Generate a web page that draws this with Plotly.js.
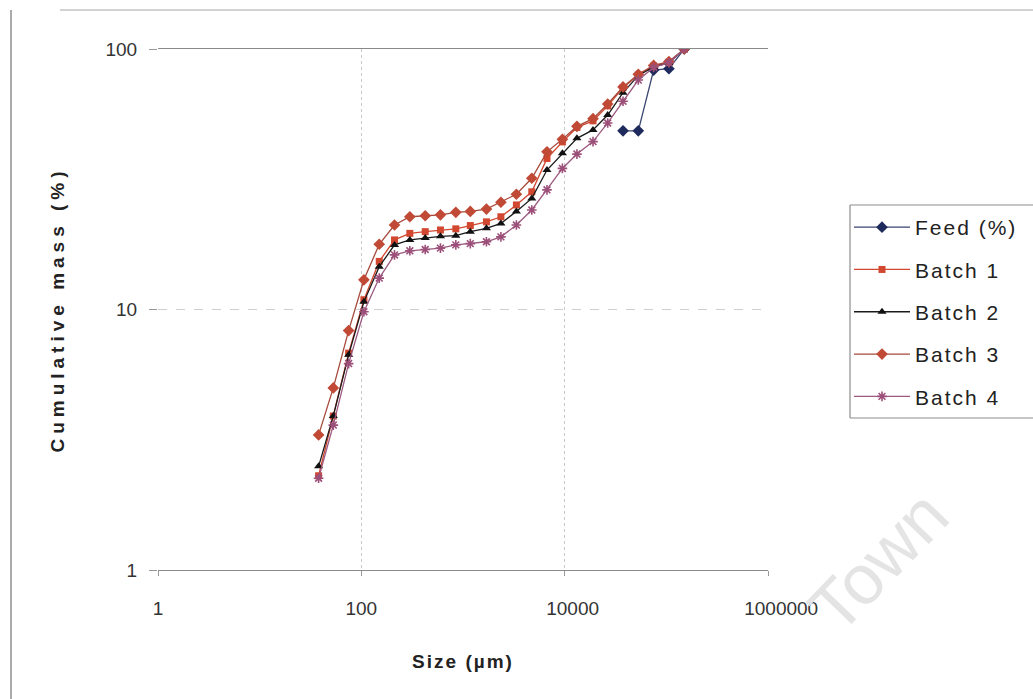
<!DOCTYPE html>
<html>
<head>
<meta charset="utf-8">
<script src="https://cdn.plot.ly/plotly-3.0.1.min.js"></script>
<style>
  html, body { margin: 0; padding: 0; background: #fff; }
  #chart { width: 1033px; height: 699px; }
  .legendtext { letter-spacing: 2px; }
  .ytitle { letter-spacing: 5px; }
  .xtitle { letter-spacing: 2px; }
</style>
</head>
<body>
<div id="chart"></div>
<script>
// Sieve sizes (µm) for the batch curves
const sizes = [38, 53, 75, 106, 150, 212, 300, 425, 600, 850, 1180, 1700, 2360,
               3350, 4750, 6700, 9500, 13200, 19000, 26500, 37500, 53000, 75000,
               106000, 150000];

// Feed is only reported on the coarse sieves
const feedSizes = [37500, 53000, 75000, 106000, 150000];
const feedPct   = [48.5, 48.5, 83, 84, 100];

// Cumulative mass passing (%) per batch
const batch1 = [2.3, 3.9, 6.8, 10.9, 15.3, 18.5, 19.6, 19.9, 20.2, 20.4, 21.0, 21.7, 22.7,
                25.2, 28.3, 38.0, 44.0, 50.0, 53.0, 60.5, 71.0, 79.5, 86.0, 89.0, 100];
const batch2 = [2.5, 3.9, 6.7, 10.7, 14.6, 17.7, 18.5, 18.8, 19.1, 19.2, 19.9, 20.5, 21.4,
                23.8, 26.7, 34.3, 39.8, 45.4, 48.9, 55.8, 68.0, 79.0, 85.5, 88.5, 100];
const batch3 = [3.3, 5.0, 8.3, 13.0, 17.8, 21.1, 22.7, 22.9, 23.1, 23.6, 23.8, 24.3, 25.8,
                27.7, 31.9, 40.3, 45.0, 50.5, 54.0, 61.5, 71.5, 80.0, 86.5, 89.5, 100];
const batch4 = [2.25, 3.6, 6.2, 9.8, 13.2, 16.2, 16.8, 17.0, 17.2, 17.7, 17.9, 18.2, 19.0,
                21.1, 24.1, 28.8, 34.8, 39.5, 44.1, 52.0, 63.0, 76.0, 85.0, 88.5, 100];

const xTickVals = [1, 100, 10000, 1000000];
const xTickText = ['1', '100', '\u00a0\u00a0\u00a010000', '\u00a0\u00a0\u00a0\u00a0\u00a01000000'];
const yTickVals = [1, 10, 100];
const yTickText = ['1', '10', '100'];

function series(name, x, y, color, lineColor, symbol, size, group) {
  const open = symbol.indexOf('open') >= 0;
  return {
    type: 'scatter', mode: 'lines+markers', name: name, x: x, y: y,
    legendgroup: group,
    line: { color: lineColor, width: 1.3 },
    marker: {
      symbol: symbol, size: size, color: color,
      line: { color: color, width: open ? 1.6 : 0 }
    },
    hoverinfo: 'x+y+name'
  };
}

const traces = [
  series('Feed (%)', feedSizes, feedPct, '#1f2a5c', '#3a4570', 'diamond', 9, 'g0'),
  series('Batch 1', sizes, batch1, '#d2472f', '#d2472f', 'square', 7, 'g1'),
  series('Batch 2', sizes, batch2, '#111111', '#1a1a1a', 'triangle-up', 8, 'g2'),
  series('Batch 3', sizes, batch3, '#c04a35', '#a64a3c', 'diamond', 9, 'g3'),
  series('Batch 4', sizes, batch4, '#9c4f78', '#9c5a80', 'asterisk-open', 8, 'g4')
];

// plot area spans 158..768 px horizontally and 49..570 px vertically
const L = 158, R = 768, T = 49, B = 570;
const px = v => (v - L) / (R - L);
const py = v => (B - v) / (B - T);

const frame = { color: '#8c8c8c', width: 1.2 };

const layout = {
  width: 1033, height: 699,
  margin: { l: L, r: 1033 - R, t: T, b: 699 - B, autoexpand: false },
  paper_bgcolor: '#ffffff',
  plot_bgcolor: '#ffffff',
  font: { family: 'Liberation Sans, Arial, sans-serif', color: '#222' },
  showlegend: true,
  xaxis: {
    type: 'log', range: [0, 6],
    tickvals: xTickVals, ticktext: xTickText,
    tickfont: { size: 19, color: '#333' },
    ticks: 'outside', ticklen: 5, tickcolor: '#999',
    ticklabelstandoff: 16,
    showgrid: true, gridcolor: '#c9c9c9', griddash: 'dot', gridwidth: 1,
    showline: true, linecolor: '#8a8a8a', linewidth: 1.3, mirror: true,
    zeroline: false,
    title: { text: '<b>Size (µm)</b>', font: { size: 19, color: '#222' }, standoff: 36 }
  },
  yaxis: {
    type: 'log', range: [0, 2],
    tickvals: yTickVals, ticktext: yTickText,
    tickfont: { size: 19, color: '#333' },
    ticks: 'outside', ticklen: 8, tickcolor: '#999',
    ticklabelstandoff: 8,
    showgrid: true, gridcolor: '#cfcfcf', griddash: 'dash', gridwidth: 1,
    showline: false, zeroline: false,
    title: { text: '<b>Cumulative mass (%)</b>', font: { size: 19, color: '#222' }, standoff: 35 }
  },
  legend: {
    xref: 'container', yref: 'container',
    x: 849 / 1033, y: 1 - 207 / 699, xanchor: 'left', yanchor: 'top',
    bgcolor: 'rgba(0,0,0,0)', borderwidth: 0,
    font: { size: 21, color: '#222', family: 'Liberation Sans, Arial, sans-serif' },
    itemwidth: 56, tracegroupgap: 12, traceorder: 'grouped'
  },
  shapes: [
    // outer chart frame
    { type: 'line', xref: 'paper', yref: 'paper', x0: px(11), x1: px(11), y0: py(10), y1: py(699),
      line: { color: '#8f8f8f', width: 1.5 } },
    { type: 'line', xref: 'paper', yref: 'paper', x0: px(60), x1: px(1033), y0: py(10), y1: py(10),
      line: { color: '#c4c4c4', width: 1.5 } },
    // legend box (open towards the right edge)
    { type: 'line', xref: 'paper', yref: 'paper', x0: px(850), x1: px(850), y0: py(205), y1: py(418), line: frame },
    { type: 'line', xref: 'paper', yref: 'paper', x0: px(850), x1: px(1040), y0: py(205), y1: py(205), line: frame },
    { type: 'line', xref: 'paper', yref: 'paper', x0: px(850), x1: px(1040), y0: py(418), y1: py(418), line: frame }
  ],
  annotations: [
    { text: 'Town', xref: 'paper', yref: 'paper', x: px(878), y: py(562),
      xanchor: 'center', yanchor: 'middle',
      showarrow: false, textangle: -46,
      font: { size: 70, color: '#e4e4e4', family: 'Liberation Sans, Arial, sans-serif' } }
  ]
};

Plotly.newPlot('chart', traces, layout, { displayModeBar: false, staticPlot: true });
</script>
</body>
</html>
